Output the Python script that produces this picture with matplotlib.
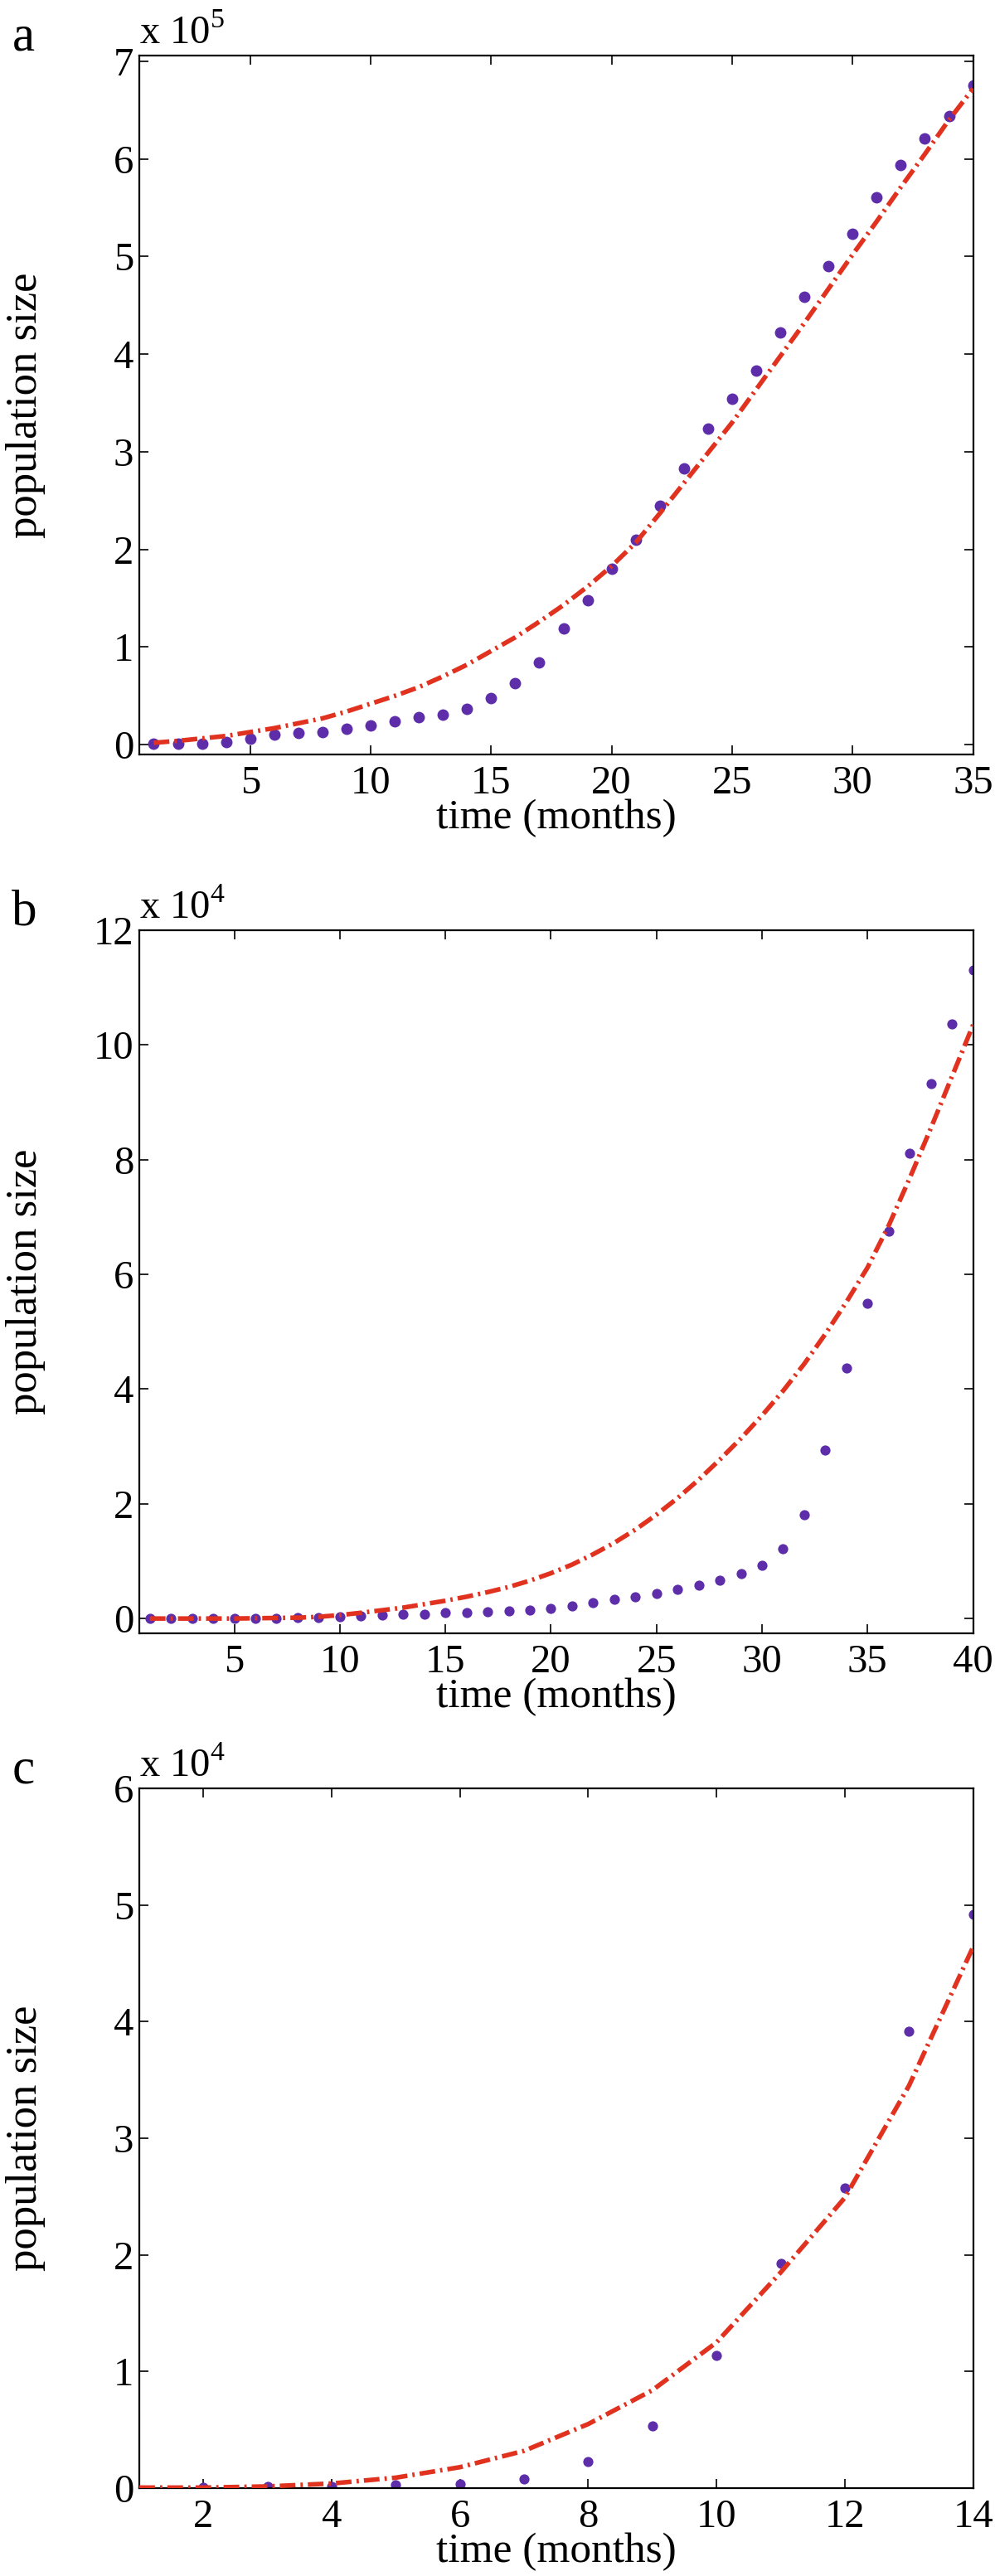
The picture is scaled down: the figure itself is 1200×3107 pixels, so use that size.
import matplotlib
matplotlib.use("Agg")
import matplotlib.pyplot as plt

plt.rcParams["font.family"] = ["Liberation Serif", "DejaVu Serif"]
plt.rcParams["mathtext.fontset"] = "custom"
plt.rcParams["mathtext.rm"] = "Liberation Serif"

# panel a: data (x 10^5) and fitted curve
months_a = list(range(1, 36))
obs_a = [0.01, 0.01, 0.01, 0.03, 0.065, 0.1, 0.12, 0.13, 0.16, 0.2,
         0.24, 0.28, 0.31, 0.37, 0.48, 0.63, 0.84, 1.19, 1.48, 1.8,
         2.1, 2.45, 2.83, 3.24, 3.54, 3.83, 4.22, 4.59, 4.9, 5.23,
         5.61, 5.94, 6.21, 6.44, 6.75]
fit_a = [0.02, 0.04, 0.065, 0.09, 0.13, 0.17, 0.22, 0.27, 0.34, 0.42,
         0.5, 0.59, 0.7, 0.82, 0.96, 1.1, 1.26, 1.43, 1.62, 1.83,
         2.07, 2.37, 2.68, 2.99, 3.3, 3.64, 3.98, 4.32, 4.67, 5.02,
         5.36, 5.71, 6.05, 6.4, 6.72]

# panel b: data (x 10^4) and fitted curve
months_b = list(range(1, 41))
obs_b = [0.0, 0.0, 0.0, 0.0, 0.0, 0.0, 0.005, 0.01, 0.02, 0.035,
         0.05, 0.06, 0.07, 0.08, 0.1, 0.11, 0.125, 0.135, 0.154, 0.178,
         0.217, 0.275, 0.328, 0.376, 0.44, 0.506, 0.578, 0.67, 0.78, 0.93,
         1.21, 1.81, 2.93, 4.37, 5.49, 6.75, 8.11, 9.32, 10.36, 11.3]
fit_b = [0.0, 0.0, 0.0, 0.0, 0.0, 0.005, 0.01, 0.015, 0.03, 0.06,
         0.1, 0.145, 0.19, 0.25, 0.31, 0.38, 0.46, 0.55, 0.66, 0.79,
         0.94, 1.12, 1.32, 1.55, 1.81, 2.1, 2.42, 2.77, 3.14, 3.54,
         3.97, 4.44, 4.96, 5.52, 6.12, 6.85, 7.68, 8.55, 9.45, 10.35]

# panel c: data (x 10^4) and fitted curve
months_c = list(range(2, 15))
obs_c = [0.01, 0.015, 0.015, 0.03, 0.035, 0.077, 0.228, 0.53, 1.14, 1.93,
         2.57, 3.92, 4.92]
months_fit_c = list(range(1, 15))
fit_c = [0.005, 0.005, 0.015, 0.04, 0.09, 0.18, 0.32, 0.55, 0.84, 1.25,
         1.85, 2.49, 3.45, 4.64]

panels = [
    ("a", months_a, obs_a, months_a, fit_a, (0.4, 35), (-0.1, 7.06),
     list(range(5, 36, 5)), list(range(0, 8)), "5", 10),
    ("b", months_b, obs_b, months_b, fit_b, (0.5, 40), (-0.26, 12),
     list(range(5, 41, 5)), list(range(0, 13, 2)), "4", 8.8),
    ("c", months_c, obs_c, months_fit_c, fit_c, (1, 14), (0, 6),
     list(range(2, 15, 2)), list(range(0, 7)), "4", 8.8),
]

# axes boxes in figure fractions [left, bottom, width, height]
boxes = [
    [0.14, 0.7071, 0.838, 0.2714],
    [0.14, 0.3659, 0.838, 0.2730],
    [0.14, 0.0341, 0.838, 0.2717],
]

DOT = "#5d2daa"
RED = "#e0321f"

fig = plt.figure(figsize=(12, 31.07), dpi=100)

for (letter, xo, yo, xf, yf, xlim, ylim, xt, yt, expo, ms), box in zip(panels, boxes):
    ax = fig.add_axes(box)
    ax.plot(xo, yo, "o", color=DOT, markersize=ms, markeredgewidth=0, zorder=2)
    ax.plot(xf, yf, color=RED, linewidth=4, linestyle=(0, (3.4, 1.1, 0.5, 1.1)),
            zorder=3)
    ax.set_xlim(*xlim)
    ax.set_ylim(*ylim)
    ax.set_xticks(xt)
    ax.set_yticks(yt)
    ax.tick_params(direction="in", length=8, width=1.2, top=True, right=True,
                   labelsize=35)
    ax.tick_params(axis="x", pad=9)
    ax.tick_params(axis="y", pad=5)
    for s in ax.spines.values():
        s.set_linewidth(1.6)
    ax.set_xlabel("time (months)", fontsize=37, labelpad=-2)
    ax.set_ylabel("population size", fontsize=38)
    # label coordinate is the right edge of the rotated text
    ax.yaxis.set_label_coords(-0.112, 0.5)
    ax.text(0.0, 1.005, r"x 10$^{\mathregular{%s}}$" % expo, transform=ax.transAxes,
            fontsize=35, ha="left", va="bottom")
    bb = ax.get_position()
    fig.text(0.012, bb.y1 + 0.002, letter, fontsize=44, ha="left", va="baseline")

fig.savefig("out.png", dpi=100)
